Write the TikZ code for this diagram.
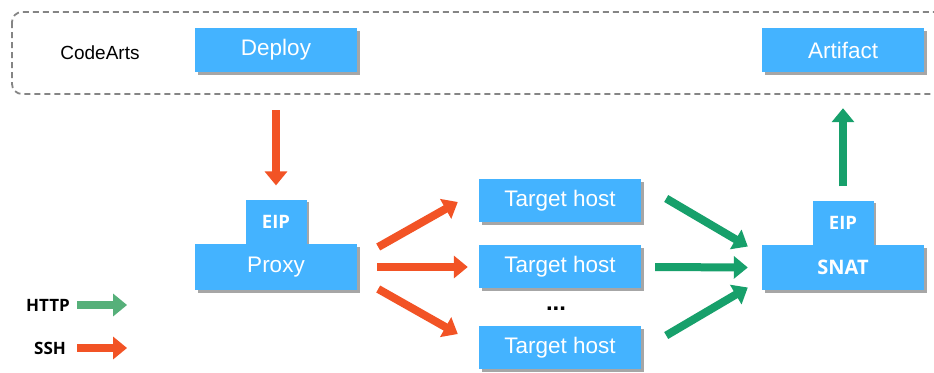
\documentclass[tikz,border=0pt]{standalone}
\usepackage{fontspec}
\setmainfont{Liberation Sans}
\newfontfamily\labelfont{Open Sans}
\usetikzlibrary{arrows.meta,shadows,calc,positioning}

\definecolor{boxblue}{HTML}{44B3FF}
\definecolor{shadowgray}{HTML}{A6A6A6}
\definecolor{sshred}{HTML}{F25325}
\definecolor{httpgreen}{HTML}{17A06B}
\definecolor{legendgreen}{HTML}{56B07A}

\tikzset{
    box/.style={rectangle, fill=boxblue, text=white, inner sep=0pt,
        minimum width=162pt, minimum height=44pt,
        font=\fontsize{22.5}{25}\selectfont,
        drop shadow={shadow xshift=2.5pt, shadow yshift=-2.5pt, opacity=1, fill=shadowgray}},
    eipbox/.style={box, minimum width=61pt, font=\labelfont\bfseries\fontsize{18.5}{21}\selectfont},
    legend/.style={inner sep=0pt, font=\labelfont\bfseries\fontsize{17}{20}\selectfont},
    ssh/.style={draw=sshred, line width=8pt, -{Triangle[length=14pt,width=22pt]}},
    http/.style={draw=httpgreen, line width=8pt, -{Triangle[length=14pt,width=22pt]}}
}

\begin{document}
\begin{tikzpicture}[x=1pt,y=-1pt]
    \useasboundingbox (0,0) rectangle (934,372);
    \clip (0,0) rectangle (934,372);

    % CodeArts frame
    \draw[shadowgray!80!black, line width=1.8pt, dash pattern=on 6pt off 4pt, rounded corners=10pt]
        (12,12) rectangle (960,94);
    \node[inner sep=0pt, font=\fontsize{19}{22}\selectfont] (codearts) at (100,53) {CodeArts};
    \node[box] (deploy) at (276,50) {Deploy};
    \node[box] (artifact) at (843,50) {Artifact};

    % proxy side
    \node[box, minimum height=46pt] (proxy) at (276,267) {};
    \node[eipbox, above=0pt of proxy] (eipl) {EIP};
    \node[box, minimum height=46pt] at (proxy) {Proxy};

    % target hosts
    \node[box, minimum height=43pt] (host1) at (560,200.5) {Target host};
    \node[box, minimum height=43pt] (host2) at (560,266.5) {Target host};
    \node[box, minimum height=43pt] (host3) at (560,347.5) {Target host};
    \node[inner sep=0pt, font=\bfseries\fontsize{24}{26}\selectfont] (dots) at (556,309) {...};

    % SNAT side
    \node[box, minimum height=45pt] (snat) at (843,267.5) {};
    \node[eipbox, above=0pt of snat] (eipr) {EIP};
    \node[box, minimum height=45pt, font=\labelfont\bfseries\fontsize{20}{22}\selectfont] at (snat) {SNAT};

    % SSH connections
    \draw[ssh] ($(deploy.south)+(0,38)$) -- ($(eipl.north)+(0,-14)$);
    \draw[ssh] ($(proxy.east)+(21,-20)$) -- ($(host1.west)+(-21,1.5)$);
    \draw[ssh] ($(proxy.east)+(20,0)$) -- ($(host2.west)+(-11,0.5)$);
    \draw[ssh] ($(proxy.east)+(21,22)$) -- ($(host3.west)+(-21,-13.5)$);

    % HTTP connections
    \draw[http] ($(host1.east)+(25,-2)$) -- ($(snat.west)+(-14,-21)$);
    \draw[http] ($(host2.east)+(14,0.5)$) -- ($(snat.west)+(-14,0)$);
    \draw[http] ($(host3.east)+(25,-12)$) -- ($(snat.west)+(-14,20)$);
    \draw[http] ($(eipr.north)+(0,-14)$) -- ($(artifact.south)+(0,36)$);

    % legend
    \node[legend] (httplabel) at (48,305) {HTTP};
    \node[legend] (sshlabel) at (50,348) {SSH};
    \draw[http, draw=legendgreen] ($(httplabel.east)+(7,0)$) -- ++(50,0);
    \draw[ssh] (sshlabel.east -| {$(httplabel.east)+(7,0)$}) -- ++(50,0);
\end{tikzpicture}
\end{document}
